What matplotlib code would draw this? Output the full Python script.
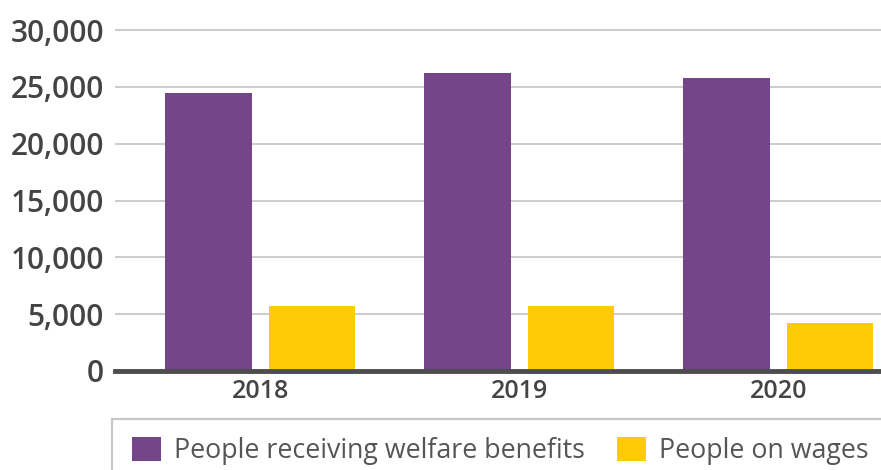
import matplotlib
matplotlib.use("Agg")
import matplotlib.pyplot as plt
from matplotlib.patches import Rectangle
import numpy as np

years = ["2018", "2019", "2020"]
welfare = [24450, 26200, 25750]
wages = [5700, 5700, 4250]
series_names = ["People receiving welfare benefits", "People on wages"]
yticks = [0, 5000, 10000, 15000, 20000, 25000, 30000]

PURPLE = "#744689"
YELLOW = "#FFCB05"
TEXT = "#444444"

plt.rcParams["font.family"] = ["Open Sans", "DejaVu Sans"]

W, H = 881, 470
fig = plt.figure(figsize=(W / 100, H / 100), dpi=100)
zero_px = 371.0
top_px = 30.0
ymax = 31000
hpx = (zero_px - top_px) * ymax / 30000
ax = fig.add_axes([115 / W, (H - zero_px) / H, (W - 115) / W, hpx / H])

x = np.arange(len(years))
bw = 0.334
off = 0.2
ax.bar(x - off, welfare, bw, color=PURPLE, zorder=2, label=series_names[0])
ax.bar(x + off, wages, bw, color=YELLOW, zorder=2, label=series_names[1])

ax.set_xlim(-0.56, 2.396)
ax.set_ylim(0, ymax)
ax.set_yticks(yticks)
ax.set_yticklabels([f"{v:,}" for v in yticks], fontsize=21.5, fontweight="semibold", color=TEXT)
ax.set_xticks(x)
ax.set_xticklabels(years, fontsize=18, fontweight="semibold", color=TEXT)
ax.tick_params(axis="y", length=0, pad=8)
ax.tick_params(axis="x", length=0, pad=6)
ax.grid(axis="y", color="#c8c8c8", linewidth=1.3, zorder=0)
ax.set_axisbelow(True)
for s in ["top", "right", "left"]:
    ax.spines[s].set_visible(False)
ax.spines["bottom"].set_color("#4d4d4d")
ax.spines["bottom"].set_linewidth(3.5)
ax.spines["bottom"].set_zorder(3)

# legend frame
fig.patches.append(Rectangle((112 / W, -0.1), 1.0, (H - 419) / H + 0.1,
                             transform=fig.transFigure, fill=False,
                             edgecolor="#c8c8c8", linewidth=1.6))
leg = fig.legend(loc="upper left", bbox_to_anchor=(132 / W, (H - 437) / H),
                 ncol=2, frameon=False, fontsize=19.3, labelcolor="#555555",
                 handlelength=1.08, handleheight=1.0, handletextpad=0.48,
                 columnspacing=1.2, borderpad=0, borderaxespad=0)

fig.savefig("out.png", dpi=100)
